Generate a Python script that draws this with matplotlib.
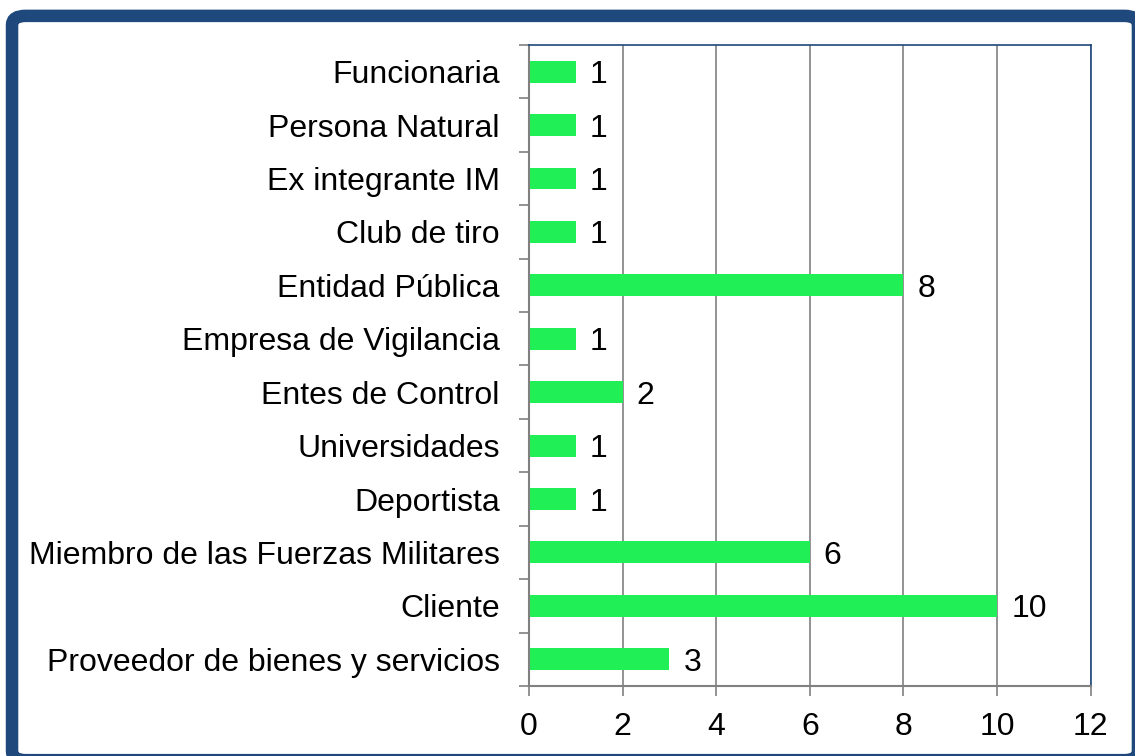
from matplotlib import pyplot as plt
from matplotlib.patches import FancyBboxPatch
import numpy as np

categories = ['Proveedor de bienes y servicios', 'Cliente',
              'Miembro de las Fuerzas Militares', 'Deportista',
              'Universidades', 'Entes de Control', 'Empresa de Vigilancia',
              'Entidad Pública', 'Club de tiro', 'Ex integrante IM',
              'Persona Natural', 'Funcionaria']
values = [3, 10, 6, 1, 1, 2, 1, 8, 1, 1, 1, 1]

plt.rcParams['font.family'] = ['Liberation Sans', 'DejaVu Sans']
fs = 23

fig = plt.figure(figsize=(11.35, 7.56), dpi=100)

# dark blue frame, cut off at the right and bottom edges like the original
frame = FancyBboxPatch((0.0106, -0.0055), 0.992, 0.9845,
                       boxstyle='round,pad=0,rounding_size=0.012',
                       transform=fig.transFigure, facecolor='white',
                       edgecolor='#1F497D', linewidth=9, zorder=-5)
fig.patches.append(frame)

ax = fig.add_axes([0.466, 0.0926, 0.495, 0.848])
ax.set_facecolor('none')

y = np.arange(len(categories))
ax.barh(y, values, height=0.41, color='#20F055', zorder=3)
for yi, v in zip(y, values):
    ax.text(v + 0.3, yi, str(v), va='center_baseline', ha='left', fontsize=fs)

ax.set_xlim(0, 12)
ax.set_ylim(-0.5, len(categories) - 0.5)
ax.set_xticks(range(0, 13, 2))
ax.set_yticks(y)
ax.set_yticklabels(categories)
ax.set_yticks(np.arange(-0.5, len(categories), 1), minor=True)
ax.tick_params(axis='y', which='major', length=0, pad=21, labelsize=fs)
ax.tick_params(axis='y', which='minor', length=7, color='#808080', width=1.2)
ax.tick_params(axis='x', length=7, color='#808080', width=1.2, labelsize=fs, pad=12)

ax.grid(axis='x', color='#808080', linewidth=1.2, zorder=1)
ax.spines['left'].set_color('#808080')
ax.spines['bottom'].set_color('#808080')
ax.spines['left'].set_linewidth(1.5)
ax.spines['bottom'].set_linewidth(1.5)
ax.spines['top'].set_color('#1F497D')
ax.spines['right'].set_color('#1F497D')
ax.spines['top'].set_linewidth(1.2)
ax.spines['right'].set_linewidth(1.2)
for s in ax.spines.values():
    s.set_zorder(4)

fig.savefig('out.png', dpi=100)
